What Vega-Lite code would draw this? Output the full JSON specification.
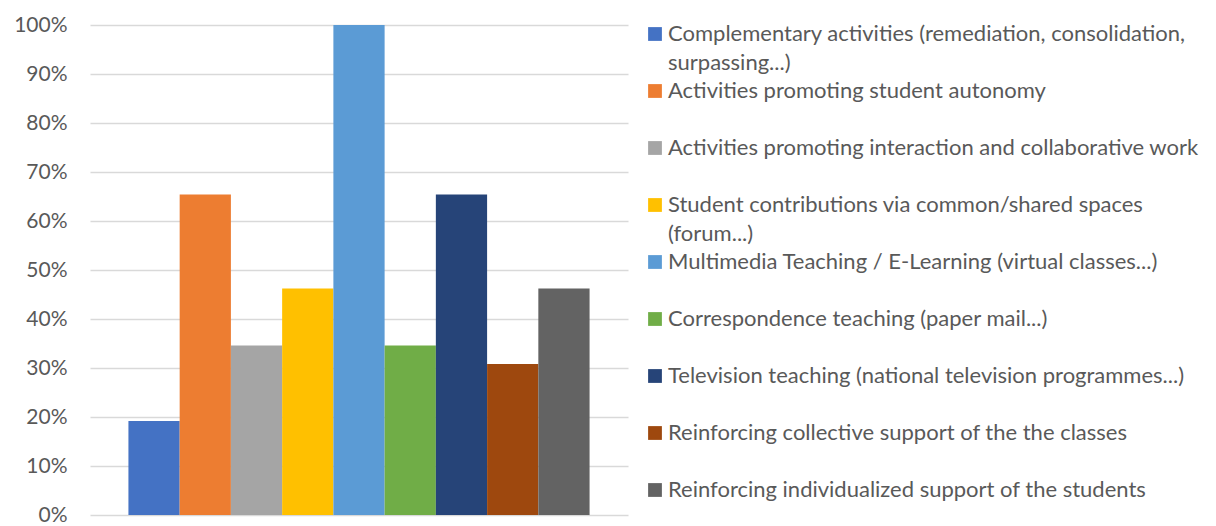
{
  "$schema": "https://vega.github.io/schema/vega-lite/v6.json",
  "width": 538,
  "height": 490,
  "autosize": {"type": "none"},
  "padding": {"left": 90, "top": 25, "right": 588, "bottom": 11},
  "background": "white",
  "data": {
    "values": [
      {"activity": "Complementary activities (remediation, consolidation, surpassing...)", "share": 0.192},
      {"activity": "Activities promoting student autonomy", "share": 0.654},
      {"activity": "Activities promoting interaction and collaborative work", "share": 0.346},
      {"activity": "Student contributions via common/shared spaces (forum...)", "share": 0.462},
      {"activity": "Multimedia Teaching / E-Learning (virtual classes...)", "share": 1.0},
      {"activity": "Correspondence teaching (paper mail...)", "share": 0.346},
      {"activity": "Television teaching (national television programmes...)", "share": 0.654},
      {"activity": "Reinforcing collective support of the the classes", "share": 0.308},
      {"activity": "Reinforcing individualized support of the students", "share": 0.462}
    ]
  },
  "mark": {"type": "bar"},
  "encoding": {
    "x": {
      "field": "activity",
      "type": "nominal",
      "sort": null,
      "scale": {"paddingInner": 0, "paddingOuter": 0.75},
      "axis": null
    },
    "y": {
      "field": "share",
      "type": "quantitative",
      "scale": {"domain": [0, 1], "nice": false},
      "axis": {
        "title": null,
        "format": ".0%",
        "values": [0, 0.1, 0.2, 0.3, 0.4, 0.5, 0.6, 0.7, 0.8, 0.9, 1.0],
        "domain": false,
        "ticks": false,
        "labelPadding": 23,
        "labelFont": "Lato",
        "labelFontSize": 21,
        "labelColor": "#595959",
        "gridColor": "#d9d9d9",
        "gridWidth": 1.3
      }
    },
    "color": {
      "field": "activity",
      "type": "nominal",
      "sort": null,
      "scale": {
        "domain": [
          "Complementary activities (remediation, consolidation, surpassing...)",
          "Activities promoting student autonomy",
          "Activities promoting interaction and collaborative work",
          "Student contributions via common/shared spaces (forum...)",
          "Multimedia Teaching / E-Learning (virtual classes...)",
          "Correspondence teaching (paper mail...)",
          "Television teaching (national television programmes...)",
          "Reinforcing collective support of the the classes",
          "Reinforcing individualized support of the students"
        ],
        "range": ["#4472C4", "#ED7D31", "#A5A5A5", "#FFC000", "#5B9BD5", "#70AD47", "#264478", "#9E480E", "#636363"]
      },
      "legend": {
        "title": null,
        "orient": "none",
        "legendX": 554,
        "legendY": -2,
        "padding": 0,
        "symbolType": "square",
        "symbolSize": 190,
        "symbolStrokeWidth": 0,
        "symbolOpacity": 1,
        "labelOffset": 2,
        "labelFont": "Lato",
        "labelFontSize": 22,
        "labelColor": "#595959",
        "labelLimit": 1000,
        "labelBaseline": "middle",
        "gridAlign": "all",
        "rowPadding": 6,
        "labelExpr": "split(replace(replace(datum.label, ', surpassing', ',|surpassing'), ' (forum', '|(forum'), '|')",
        "encode": {"labels": {"update": {"lineHeight": {"value": 29}}}}
      }
    }
  },
  "config": {"view": {"stroke": null}}
}
